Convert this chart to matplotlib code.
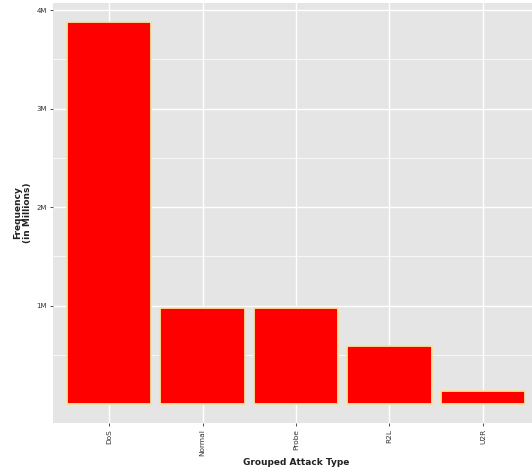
import matplotlib
matplotlib.use("Agg")
import matplotlib.pyplot as plt
from matplotlib.ticker import FixedLocator, FuncFormatter

categories = ["DoS", "Normal", "Probe", "R2L", "U2R"]
frequency = [3880000, 972000, 975000, 590000, 135000]
y_ticks = [1000000, 2000000, 3000000, 4000000]
y_tick_labels = ["1M", "2M", "3M", "4M"]
y_minor = [500000, 1500000, 2500000, 3500000]

fig = plt.figure(figsize=(5.32, 4.74), dpi=100)
fig.patch.set_facecolor("white")
ax = fig.add_axes([53/532, (474-423)/474, 486/532, 420/474])
ax.set_facecolor("#E5E5E5")

x = list(range(len(categories)))
ax.bar(x, frequency, width=0.9, color="#FF0000", edgecolor="#F7E3A0", linewidth=1.3, zorder=3)

ymax = max(frequency)
ax.set_xlim(-0.6, len(categories) - 0.4)
ax.set_ylim(-0.05 * ymax, 1.05 * ymax)

ax.yaxis.set_major_locator(FixedLocator(y_ticks))
ax.yaxis.set_major_formatter(FuncFormatter(lambda v, p: y_tick_labels[y_ticks.index(v)] if v in y_ticks else ""))
ax.yaxis.set_minor_locator(FixedLocator(y_minor))
ax.set_xticks(x)
ax.set_xticklabels(categories, rotation=90, fontsize=5.3, color="#333333", va="top", ha="center")
for lab in ax.get_yticklabels():
    lab.set_fontsize(5.0)
    lab.set_color("#333333")

ax.grid(True, which="major", color="white", linewidth=1.0, zorder=0)
ax.grid(True, which="minor", axis="y", color="white", linewidth=0.5, zorder=0)
ax.set_axisbelow(True)
for s in ax.spines.values():
    s.set_visible(False)
ax.tick_params(axis="both", which="major", length=2.5, width=0.6, color="#333333", pad=2)
ax.tick_params(axis="y", which="minor", length=0)

ax.set_xlabel("Grouped Attack Type", fontsize=6.5, fontweight="bold", color="#222222", labelpad=1.5)
ax.set_ylabel("Frequency\n(in Millions)", fontsize=6.5, fontweight="bold", color="#222222", labelpad=3)

fig.savefig("out.png", dpi=100)
